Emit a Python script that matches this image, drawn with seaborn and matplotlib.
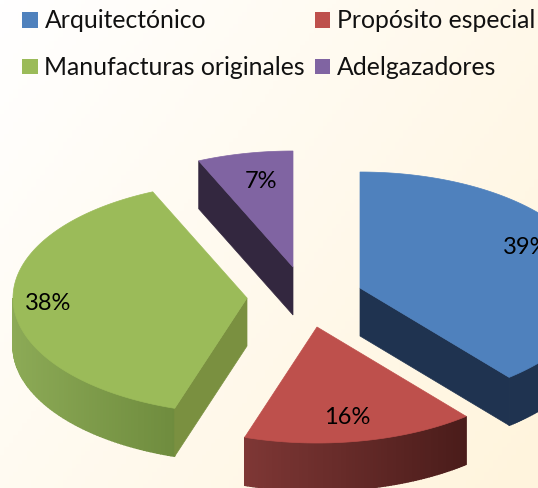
import numpy as np
import matplotlib
matplotlib.use('Agg')
import matplotlib.pyplot as plt
from matplotlib.colors import to_rgb
from matplotlib.patches import Patch, Polygon
import seaborn as sns

categories = ['Arquitectónico', 'Propósito especial', 'Manufacturas originales', 'Adelgazadores']
shares = [39, 16, 38.4, 6.6]
top_colors = ['#4F81BD', '#BE504C', '#9BBB59', '#8064A2']
side_colors = ['#1F3350', '#6B2B29', '#7A9040', '#33273F']

# where each exploded slice sits, in pixels
apexes = [(360, 288), (317, 327), (247, 298), (293, 267)]
label_pos = [(526, 247), (347, 417), (48, 304), (261, 181)]

A, B, DEPTH = 234, 116, 48

sns.set_theme(style='white')
plt.rcParams['font.family'] = ['Lato', 'DejaVu Sans']

fig = plt.figure(figsize=(5.38, 4.88), dpi=100)
ax = fig.add_axes([0, 0, 1, 1])
ax.set_xlim(0, 538)
ax.set_ylim(488, 0)
ax.axis('off')

# Background gradient
yy, xx = np.mgrid[0:1:120j, 0:1:120j]
mix = np.clip((xx * 0.6 + yy * 0.4) * 1.05, 0, 1)[..., None]
bg = np.array([1, 1, 1]) * (1 - mix) + np.array([1, 0.96, 0.87]) * mix
ax.imshow(bg, extent=[0, 538, 488, 0], aspect='auto', zorder=0)


def rim(apex, t):
    return apex[0] + A * np.sin(t), apex[1] - B * np.cos(t)


def arc_wall(apex, t0, t1, left_col, right_col):
    # outer wall cut in thin strips so it can be shaded left to right
    ts = np.linspace(t0, t1, 80)
    c0, c1 = np.array(to_rgb(left_col)), np.array(to_rgb(right_col))
    xs = [rim(apex, t)[0] for t in ts]
    for i in range(len(ts) - 1):
        x0, y0 = rim(apex, ts[i])
        x1, y1 = rim(apex, ts[i + 1])
        f = (x0 - min(xs)) / (max(xs) - min(xs))
        col = c0 * (1 - f) + c1 * f
        ax.add_patch(Polygon([(x0, y0), (x1, y1), (x1, y1 + DEPTH), (x0, y0 + DEPTH)],
                             closed=True, fc=col, ec=col, lw=1, zorder=2))


def radial_wall(apex, t, color):
    x, y = rim(apex, t)
    ax.add_patch(Polygon([apex, (x, y), (x, y + DEPTH), (apex[0], apex[1] + DEPTH)],
                         closed=True, fc=color, ec=color, lw=0.5, zorder=2))


edges = np.radians(np.cumsum([0] + shares) * 3.6)

# Walls
arc_wall(apexes[0], np.pi / 2, edges[1], side_colors[0], side_colors[0])
radial_wall(apexes[0], edges[1], side_colors[0])
arc_wall(apexes[1], edges[2], edges[1], '#7E3735', '#4A1C1A')
arc_wall(apexes[2], edges[2], 1.5 * np.pi, '#8CAA56', '#6F8C3E')
radial_wall(apexes[2], edges[2], side_colors[2])
radial_wall(apexes[3], edges[3], side_colors[3])

# Top faces
for i, apex in enumerate(apexes):
    ts = np.linspace(edges[i], edges[i + 1], 120)
    pts = [apex] + [rim(apex, t) for t in ts]
    ax.add_patch(Polygon(pts, closed=True, fc=top_colors[i], ec=top_colors[i], lw=0.5, zorder=3))
    ax.text(label_pos[i][0], label_pos[i][1], '%.0f%%' % shares[i], fontsize=17, color='black',
            ha='center', va='center', zorder=4, clip_on=False)

handles = [Patch(fc=c, ec='none') for c in top_colors]
# matplotlib fills columns first, so reorder to get the reading order by rows
order = [0, 2, 1, 3]
ax.legend([handles[i] for i in order], [categories[i] for i in order], ncol=2, frameon=False,
          loc='upper left', bbox_to_anchor=(0.0275, 0.996), fontsize=17.8, handlelength=0.62,
          handleheight=0.6, handletextpad=0.28, columnspacing=0.4, labelspacing=0.96, borderpad=0.3,
          borderaxespad=0, labelcolor='#111111')

fig.savefig('out.png', dpi=100)
